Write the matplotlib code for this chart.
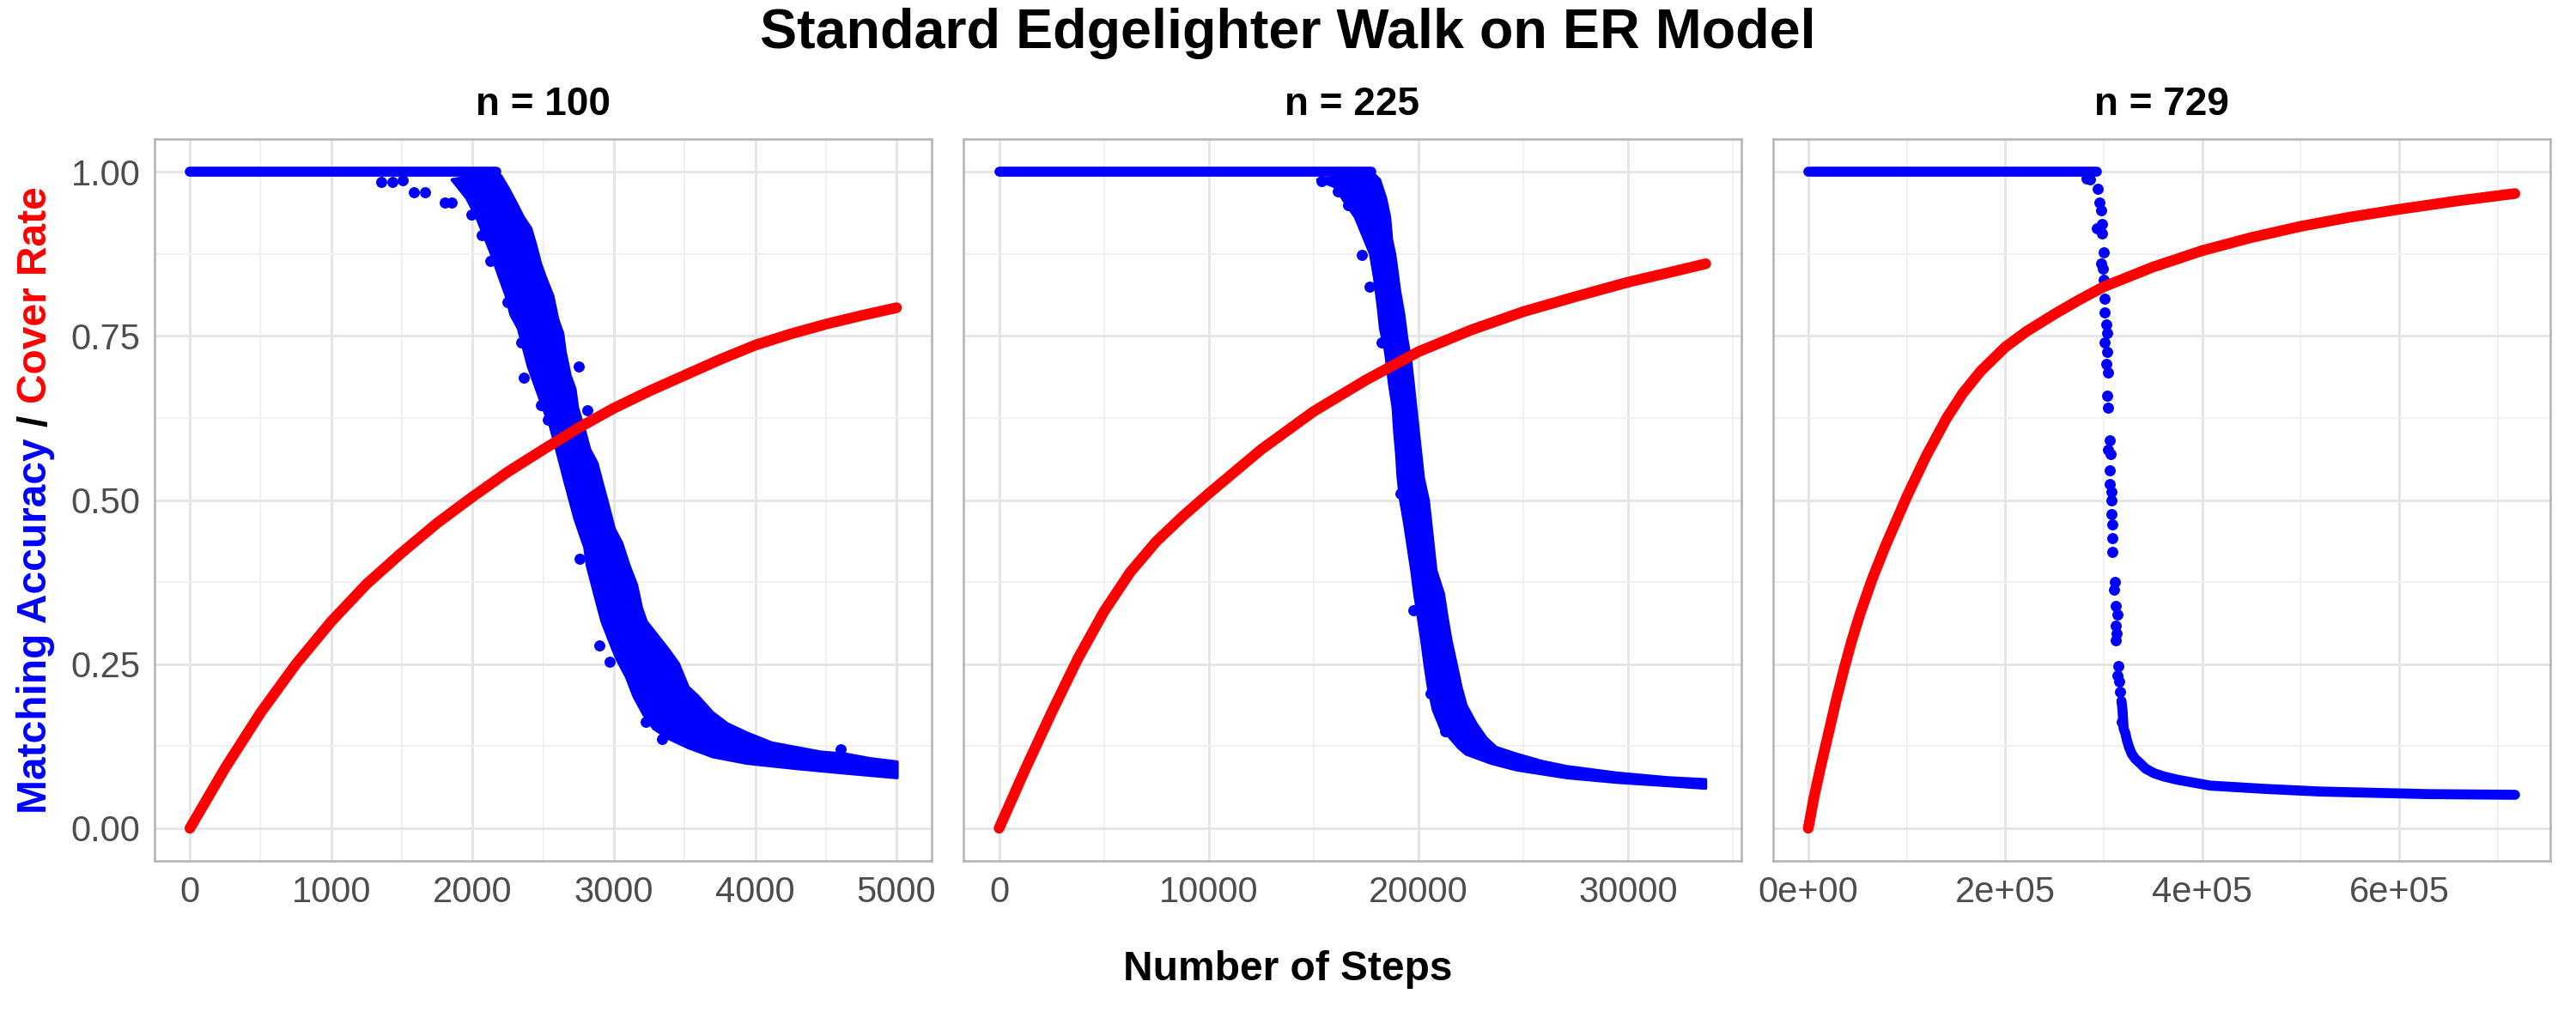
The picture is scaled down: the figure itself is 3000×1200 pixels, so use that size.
import numpy as np
import matplotlib
matplotlib.use("Agg")
import matplotlib.pyplot as plt
from matplotlib.ticker import FixedLocator

plt.rcParams['font.family'] = ['Liberation Sans', 'DejaVu Sans']

BLUE = "#0000FF"
RED = "#FF0000"

# ---- n = 100 ----
p1_flat_end = 2168
p1_red_x = [0, 250, 500, 750, 1000, 1250, 1500, 1750, 2000, 2250, 2500, 2750,
            3000, 3250, 3500, 3750, 4000, 4250, 4500, 4750, 5000]
p1_red_y = [0.0, 0.092, 0.176, 0.25, 0.315, 0.372, 0.42, 0.465, 0.505, 0.543,
            0.577, 0.61, 0.64, 0.666, 0.69, 0.714, 0.736, 0.753, 0.768, 0.781, 0.793]
p1_up_x = [2168, 2203, 2255, 2307, 2359, 2412, 2446, 2481, 2516, 2568, 2603, 2638,
           2655, 2690, 2725, 2742, 2794, 2829, 2881, 2916, 2951, 3003, 3055, 3108,
           3160, 3195, 3229, 3386, 3456, 3525, 3595, 3699, 3804, 3943, 4117, 4291,
           4465, 4639, 4813, 5004]
p1_up_y = [1.0, 0.993, 0.974, 0.953, 0.931, 0.914, 0.889, 0.860, 0.839, 0.811, 0.775,
           0.754, 0.726, 0.690, 0.669, 0.641, 0.605, 0.577, 0.556, 0.527, 0.499, 0.456,
           0.435, 0.400, 0.371, 0.336, 0.315, 0.272, 0.251, 0.215, 0.201, 0.176, 0.159,
           0.145, 0.130, 0.123, 0.116, 0.113, 0.106, 0.101]
p1_lo_x = [1855, 1959, 2029, 2081, 2133, 2168, 2203, 2238, 2272, 2325, 2359, 2394,
           2429, 2464, 2499, 2551, 2586, 2620, 2655, 2690, 2725, 2760, 2794, 2812,
           2847, 2881, 2916, 2968, 3021, 3090, 3142, 3212, 3282, 3386, 3525, 3699,
           3943, 4291, 4639, 5004]
p1_lo_y = [0.988, 0.960, 0.931, 0.903, 0.875, 0.853, 0.832, 0.811, 0.782, 0.761, 0.733,
           0.704, 0.683, 0.662, 0.641, 0.612, 0.584, 0.556, 0.527, 0.499, 0.471, 0.449,
           0.428, 0.400, 0.371, 0.343, 0.315, 0.286, 0.258, 0.230, 0.201, 0.173, 0.152,
           0.137, 0.123, 0.109, 0.099, 0.091, 0.084, 0.077]
p1_dot_x = [1357, 1430, 1507, 1583, 1663, 1803, 1855, 1994, 2064, 2126, 2245, 2342,
            2363, 2481, 2533, 2749, 2812, 2760, 2899, 2969, 3226, 3341, 4604]
p1_dot_y = [0.984, 0.984, 0.987, 0.969, 0.969, 0.953, 0.953, 0.935, 0.903, 0.864,
            0.802, 0.740, 0.687, 0.644, 0.623, 0.704, 0.637, 0.410, 0.279, 0.254,
            0.162, 0.136, 0.120]

# ---- n = 225 ----
p2_flat_end = 17760
p2_red_x = [0, 1250, 2500, 3750, 5000, 6250, 7500, 8750, 10000, 12500, 15000, 17500,
            20000, 22500, 25000, 27500, 30000, 32000, 33700]
p2_red_y = [0.0, 0.09, 0.176, 0.258, 0.33, 0.39, 0.437, 0.475, 0.51, 0.577, 0.635,
            0.683, 0.726, 0.759, 0.787, 0.81, 0.832, 0.847, 0.86]
p2_up_x = [17760, 18144, 18432, 18624, 18720, 18864, 18960, 19104, 19296, 19440,
           19632, 19752, 19872, 19992, 20112, 20232, 20472, 20592, 20712, 20832,
           21192, 21360, 21552, 21792, 22032, 22272, 22752, 23232, 23712, 24672,
           25872, 27072, 29472, 31872, 33696]
p2_up_y = [1.0, 0.988, 0.960, 0.931, 0.896, 0.875, 0.853, 0.818, 0.783, 0.747, 0.712,
           0.677, 0.641, 0.605, 0.570, 0.534, 0.499, 0.464, 0.428, 0.393, 0.357, 0.322,
           0.286, 0.251, 0.215, 0.187, 0.159, 0.137, 0.123, 0.113, 0.102, 0.094, 0.084,
           0.077, 0.074]
p2_lo_x = [15192, 16032, 16512, 16992, 17352, 17712, 17904, 18072, 18192, 18432,
           18624, 18792, 18864, 18960, 19032, 19152, 19344, 19512, 19680, 19824,
           19992, 20160, 20304, 20472, 20712, 21072, 21312, 21912, 22272, 23472,
           24672, 27072, 29472, 31872, 33696]
p2_lo_y = [0.988, 0.977, 0.953, 0.931, 0.903, 0.875, 0.839, 0.797, 0.761, 0.726, 0.676,
           0.641, 0.605, 0.570, 0.534, 0.499, 0.464, 0.428, 0.393, 0.357, 0.322, 0.286,
           0.251, 0.215, 0.180, 0.152, 0.145, 0.123, 0.113, 0.099, 0.089, 0.077, 0.070,
           0.065, 0.061]
p2_dot_x = [15360, 16150, 16630, 17300, 17660, 18260, 19150, 19750, 20590, 21260]
p2_dot_y = [0.986, 0.970, 0.949, 0.873, 0.825, 0.740, 0.510, 0.332, 0.205, 0.148]

# ---- n = 729 ----
p3_flat_end = 293000
p3_red_x = [0, 5800, 12500, 20300, 28000, 36200, 44000, 52200, 65000, 78300, 100000,
            120000, 140600, 157000, 175400, 200000, 221700, 250700, 275000, 300000,
            350000, 400000, 450000, 500000, 550000, 600000, 660000, 717500]
p3_red_y = [0.0, 0.047, 0.093, 0.143, 0.193, 0.242, 0.285, 0.325, 0.38, 0.43, 0.505,
            0.568, 0.625, 0.663, 0.697, 0.733, 0.757, 0.784, 0.805, 0.825, 0.855, 0.88,
            0.9, 0.917, 0.931, 0.943, 0.956, 0.967]
p3_dot_x = [282600, 285800, 294000, 295300, 297000, 293000, 298000, 298600, 299700,
            297000, 299000, 300300, 300800, 300800, 302500, 303600, 300800, 303600,
            302500, 304100, 303600, 304100, 305800, 304700, 306900, 305800, 305800,
            307500, 308000, 308000, 309100, 309100, 309100, 311400, 310800, 311900,
            313600, 311900, 313000, 312500, 314700, 313600, 315800, 316900, 318600]
p3_dot_y = [0.990, 0.988, 0.974, 0.953, 0.942, 0.914, 0.921, 0.906, 0.878, 0.860,
            0.853, 0.836, 0.807, 0.786, 0.768, 0.754, 0.740, 0.726, 0.708, 0.694,
            0.659, 0.641, 0.591, 0.577, 0.570, 0.545, 0.524, 0.513, 0.499, 0.478,
            0.463, 0.442, 0.421, 0.375, 0.364, 0.339, 0.325, 0.308, 0.297, 0.286,
            0.247, 0.233, 0.223, 0.208, 0.162]
p3_tail_x = [318000, 319100, 320200, 321900, 323600, 325800, 328600, 331900, 336900,
             342400, 350800, 360800, 374600, 408000, 463400, 519000, 574400, 630000,
             717600]
p3_tail_y = [0.194, 0.180, 0.152, 0.145, 0.134, 0.123, 0.113, 0.106, 0.099, 0.091,
             0.084, 0.079, 0.074, 0.065, 0.060, 0.056, 0.054, 0.052, 0.051]

panel_titles = ["n = 100", "n = 225", "n = 729"]
p1_ticks = [0, 1000, 2000, 3000, 4000, 5000]
p1_labels = ["0", "1000", "2000", "3000", "4000", "5000"]
p2_ticks = [0, 10000, 20000, 30000]
p2_labels = ["0", "10000", "20000", "30000"]
p3_ticks = [0, 200000, 400000, 600000]
p3_labels = ["0e+00", "2e+05", "4e+05", "6e+05"]
y_ticks = [0.0, 0.25, 0.5, 0.75, 1.0]
y_labels = ["0.00", "0.25", "0.50", "0.75", "1.00"]

fig, axes = plt.subplots(1, 3, figsize=(10, 4), dpi=300, sharey=True)
fig.subplots_adjust(left=0.06, right=0.99, top=0.865, bottom=0.164, wspace=0.041)

LW_BLUE = 2.8
LW_RED = 3.0
DOT_S = 3.1 ** 2


def style_axis(ax, ticks, labels, xmax, title):
    xmin = 0
    span = xmax - xmin
    ax.set_xlim(xmin - 0.05 * span, xmax + 0.05 * span)
    ax.set_ylim(-0.05, 1.05)
    ax.set_xticks(ticks)
    ax.set_xticklabels(labels)
    step = ticks[1] - ticks[0]
    minors = [t + step / 2 for t in ticks] + [ticks[0] - step / 2]
    ax.xaxis.set_minor_locator(FixedLocator(minors))
    ax.set_yticks(y_ticks)
    ax.set_yticklabels(y_labels)
    ax.yaxis.set_minor_locator(FixedLocator([0.125, 0.375, 0.625, 0.875]))
    ax.set_axisbelow(True)
    ax.grid(which="major", color="#E5E5E5", lw=0.7)
    ax.grid(which="minor", color="#F0F0F0", lw=0.45)
    ax.tick_params(which="both", length=0, labelsize=10, labelcolor="#4D4D4D")
    ax.tick_params(axis="x", pad=4)
    ax.tick_params(axis="y", pad=4)
    for s in ax.spines.values():
        s.set_color("#B3B3B3")
        s.set_linewidth(0.6)
    ax.text(0.5, 1.0476, title, transform=ax.transAxes, ha="center", va="center",
            fontsize=11, fontweight="bold")


def draw_band(ax, up_x, up_y, lo_x, lo_y):
    # outline of the dense cloud of accuracy points
    xs = np.concatenate([up_x, lo_x[::-1]])
    ys = np.concatenate([up_y, lo_y[::-1]])
    ax.fill(xs, ys, color=BLUE, lw=0.9, joinstyle="round", zorder=3)


def draw_flat(ax, end):
    ax.plot([0, end], [1.0, 1.0], color=BLUE, lw=LW_BLUE, solid_capstyle="round", zorder=3)


def draw_red(ax, xs, ys):
    ax.plot(xs, ys, color=RED, lw=LW_RED, solid_capstyle="round",
            solid_joinstyle="round", zorder=4)


# n = 100
ax = axes[0]
draw_flat(ax, p1_flat_end)
draw_band(ax, p1_up_x, p1_up_y, p1_lo_x, p1_lo_y)
ax.scatter(p1_dot_x, p1_dot_y, s=DOT_S, color=BLUE, lw=0, zorder=3)
draw_red(ax, p1_red_x, p1_red_y)
style_axis(ax, p1_ticks, p1_labels, max(p1_red_x), panel_titles[0])

# n = 225
ax = axes[1]
draw_flat(ax, p2_flat_end)
draw_band(ax, p2_up_x, p2_up_y, p2_lo_x, p2_lo_y)
ax.scatter(p2_dot_x, p2_dot_y, s=DOT_S, color=BLUE, lw=0, zorder=3)
draw_red(ax, p2_red_x, p2_red_y)
style_axis(ax, p2_ticks, p2_labels, max(p2_red_x), panel_titles[1])

# n = 729
ax = axes[2]
draw_flat(ax, p3_flat_end)
ax.scatter(p3_dot_x, p3_dot_y, s=DOT_S, color=BLUE, lw=0, zorder=3)
ax.plot(p3_tail_x, p3_tail_y, color=BLUE, lw=LW_BLUE, solid_capstyle="round",
        solid_joinstyle="round", zorder=3)
draw_red(ax, p3_red_x, p3_red_y)
style_axis(ax, p3_ticks, p3_labels, max(p3_red_x), panel_titles[2])

for a in axes[1:]:
    a.tick_params(axis="y", labelleft=False)

# titles
fig.text(0.5, 0.9675, "Standard Edgelighter Walk on ER Model", ha="center", va="center",
         fontsize=15.5, fontweight="bold")
fig.text(0.5, 0.059, "Number of Steps", ha="center", va="center",
         fontsize=11.5, fontweight="bold")

# multicolour y label
pieces = [("Matching Accuracy", BLUE), ("/", "black"), ("Cover Rate", RED)]
fig.canvas.draw()
renderer = fig.canvas.get_renderer()
texts = []
for txt, col in pieces:
    t = fig.text(0, 0, txt, rotation=90, color=col, fontsize=11.5, fontweight="bold",
                 ha="center", va="bottom")
    texts.append(t)
heights = [t.get_window_extent(renderer).height for t in texts]
gap = 11.5 * 0.28 / 72 * fig.dpi
total = sum(heights) + gap * (len(texts) - 1)
fig_h = fig.get_figheight() * fig.dpi
centre = (1 - 582.5 / 1200) * fig_h
y0 = centre - total / 2
for t, h in zip(texts, heights):
    t.set_position((0.014, y0 / fig_h))
    y0 += h + gap

fig.savefig("out.png", dpi=300)
